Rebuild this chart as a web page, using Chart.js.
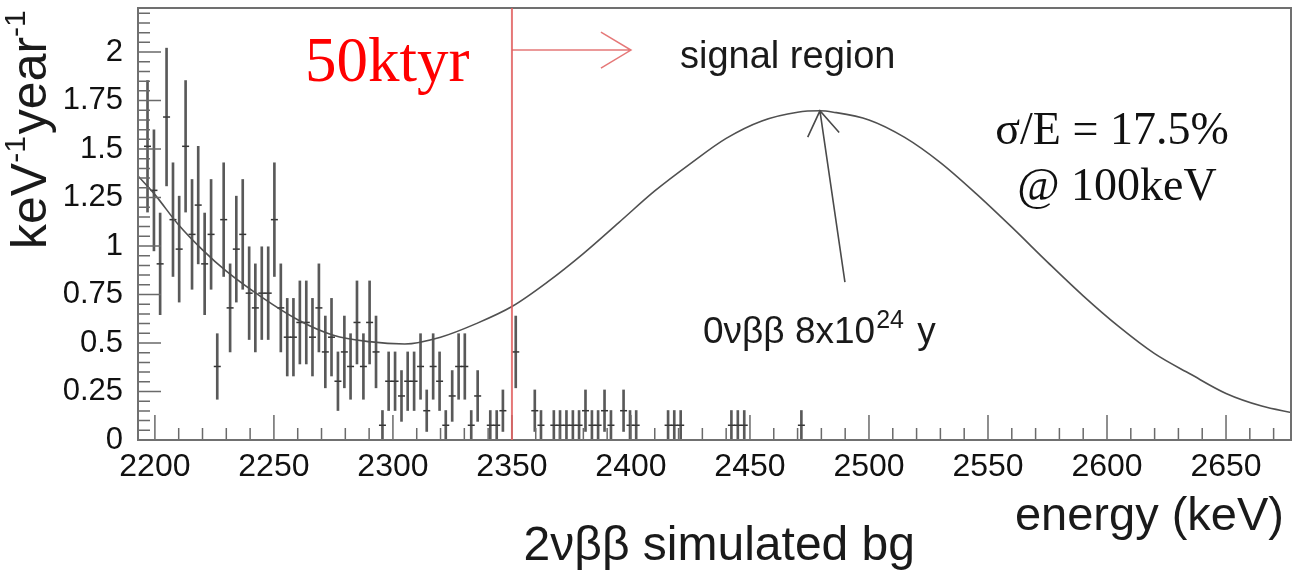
<!DOCTYPE html>
<html>
<head>
<meta charset="utf-8">
<script src="https://cdn.jsdelivr.net/npm/chart.js@4/dist/chart.umd.min.js"></script>
<style>
  html, body { margin: 0; padding: 0; background: #fff; }
</style>
</head>
<body>
<canvas id="spectrum" width="1299" height="574"></canvas>
<script>
// simulated 2vbb background, per bin (keV, keV^-1 year^-1)
const binEnergy = [2196.9, 2199.6, 2202.2, 2204.9, 2207.6, 2210.2, 2212.9, 2215.6, 2218.2, 2220.9,
  2223.6, 2226.2, 2228.9, 2231.6, 2234.2, 2236.9, 2239.6, 2242.2, 2244.9, 2247.6,
  2250.2, 2252.9, 2255.6, 2258.2, 2260.9, 2263.6, 2266.2, 2268.9, 2271.6, 2274.2,
  2276.9, 2279.6, 2282.2, 2284.9, 2287.6, 2290.2, 2292.9, 2295.6, 2298.2, 2300.9,
  2303.6, 2306.2, 2308.9, 2311.6, 2314.2, 2316.9, 2319.6, 2322.2, 2324.9, 2327.6,
  2330.2, 2332.9, 2335.6, 2340.9, 2343.6, 2346.2, 2351.6, 2359.6, 2362.2, 2367.6,
  2370.2, 2372.9, 2375.6, 2378.2, 2380.9, 2383.6, 2386.2, 2388.9, 2391.6, 2396.9,
  2399.6, 2402.2, 2415.6, 2418.2, 2420.9, 2442.2, 2444.9, 2447.6, 2471.6];
const binRate = [1.514, 1.287, 0.908, 1.665, 1.136, 0.984, 1.514, 1.060, 1.211, 0.908,
  1.060, 0.379, 1.136, 0.681, 0.984, 1.060, 0.757, 0.681, 0.757, 0.757,
  1.136, 0.681, 0.530, 0.530, 0.606, 0.606, 0.530, 0.681, 0.454, 0.530,
  0.303, 0.454, 0.379, 0.606, 0.379, 0.606, 0.454, 0.076, 0.303, 0.303,
  0.227, 0.303, 0.303, 0.379, 0.151, 0.379, 0.303, 0.076, 0.227, 0.379,
  0.379, 0.076, 0.227, 0.076, 0.076, 0.151, 0.454, 0.151, 0.076, 0.076,
  0.076, 0.076, 0.076, 0.076, 0.151, 0.076, 0.076, 0.151, 0.076, 0.151,
  0.076, 0.076, 0.076, 0.076, 0.076, 0.076, 0.076, 0.076, 0.076];
const binErr = [0.339, 0.312, 0.262, 0.355, 0.293, 0.273, 0.339, 0.283, 0.303, 0.262,
  0.283, 0.169, 0.293, 0.227, 0.273, 0.283, 0.239, 0.227, 0.239, 0.239,
  0.293, 0.227, 0.200, 0.200, 0.214, 0.214, 0.200, 0.227, 0.185, 0.200,
  0.151, 0.185, 0.169, 0.214, 0.169, 0.214, 0.185, 0.076, 0.151, 0.151,
  0.131, 0.151, 0.151, 0.169, 0.107, 0.169, 0.151, 0.076, 0.131, 0.169,
  0.169, 0.076, 0.131, 0.076, 0.076, 0.107, 0.185, 0.107, 0.076, 0.076,
  0.076, 0.076, 0.076, 0.076, 0.107, 0.076, 0.076, 0.107, 0.076, 0.107,
  0.076, 0.076, 0.076, 0.076, 0.076, 0.076, 0.076, 0.076, 0.076];

// fit: falling background plus the 0vbb peak
const fitEnergy = [2193, 2200, 2210, 2220, 2230, 2245, 2260, 2275, 2290, 2305,
  2320, 2335, 2350, 2365, 2380, 2395, 2410, 2425, 2440, 2455,
  2470, 2479.4, 2485, 2500, 2515, 2530, 2545, 2560, 2575, 2590,
  2605, 2620, 2635, 2650, 2665, 2678];
const fitRate = [1.36, 1.265, 1.108, 0.98, 0.87, 0.735, 0.62, 0.54, 0.507, 0.495,
  0.53, 0.60, 0.688, 0.815, 0.961, 1.122, 1.284, 1.425, 1.555, 1.645,
  1.69, 1.697, 1.69, 1.65, 1.56, 1.43, 1.27, 1.097, 0.917, 0.743,
  0.584, 0.445, 0.34, 0.24, 0.175, 0.14];

const energyTicks = [2200, 2250, 2300, 2350, 2400, 2450, 2500, 2550, 2600, 2650];
const rateTicks = [0, 0.25, 0.5, 0.75, 1, 1.25, 1.5, 1.75, 2];

const signalStart = 2350;
const signalArrowEnd = 2400;
const signalArrowY = 2.01;
const peakArrowTail = { x: 2489.9, y: 0.814 };

const SANS = '"Liberation Sans", Arial, Helvetica, sans-serif';
const SERIF = '"Liberation Serif", "Times New Roman", serif';

function arrowHead(ctx, tx, ty, fx, fy, len, ang) {
  const a = Math.atan2(fy - ty, fx - tx);
  ctx.moveTo(tx + len * Math.cos(a + ang), ty + len * Math.sin(a + ang));
  ctx.lineTo(tx, ty);
  ctx.lineTo(tx + len * Math.cos(a - ang), ty + len * Math.sin(a - ang));
}

const decorations = {
  id: 'decorations',
  afterDraw(chart) {
    const { ctx, chartArea: a, scales: { x, y } } = chart;
    ctx.save();

    // inward ticks along the bottom and left edges
    ctx.strokeStyle = '#6a6a6a';
    ctx.lineWidth = 1.5;
    ctx.beginPath();
    for (let t = 2200; t <= x.max; t += 10) {
      const px = x.getPixelForValue(t);
      const len = t % 50 === 0 ? 25 : 12;
      ctx.moveTo(px, a.bottom);
      ctx.lineTo(px, a.bottom - len);
    }
    for (let k = 0; k * 0.05 <= y.max; k++) {
      const py = y.getPixelForValue(k * 0.05);
      const len = k % 5 === 0 ? 23 : 12;
      ctx.moveTo(a.left, py);
      ctx.lineTo(a.left + len, py);
    }
    ctx.stroke();

    // frame
    ctx.strokeStyle = '#707070';
    ctx.lineWidth = 2;
    ctx.strokeRect(a.left, a.top, a.right - a.left, a.bottom - a.top);

    // signal region marker
    const sx = x.getPixelForValue(signalStart);
    const sy = y.getPixelForValue(signalArrowY);
    const ex = x.getPixelForValue(signalArrowEnd);
    ctx.strokeStyle = 'rgba(225, 95, 95, 0.85)';
    ctx.lineWidth = 2;
    ctx.beginPath();
    ctx.moveTo(sx, a.top);
    ctx.lineTo(sx, a.bottom);
    ctx.stroke();
    ctx.lineWidth = 1.5;
    ctx.beginPath();
    ctx.moveTo(sx, sy);
    ctx.lineTo(ex, sy);
    arrowHead(ctx, ex, sy, sx, sy, 35, 0.54);
    ctx.stroke();

    // arrow to the peak
    const px0 = x.getPixelForValue(peakArrowTail.x);
    const py0 = y.getPixelForValue(peakArrowTail.y);
    const px1 = x.getPixelForValue(fitEnergy[21]);
    const py1 = y.getPixelForValue(fitRate[21]);
    ctx.strokeStyle = '#4a4a4a';
    ctx.lineWidth = 1.6;
    ctx.beginPath();
    ctx.moveTo(px0, py0);
    ctx.lineTo(px1, py1);
    arrowHead(ctx, px1, py1, px0, py0, 29, 0.58);
    ctx.stroke();

    // texts
    ctx.fillStyle = '#1a1a1a';
    ctx.textBaseline = 'alphabetic';
    ctx.textAlign = 'left';
    ctx.font = '38px ' + SANS;
    ctx.fillText('signal region', 680, 68);

    // 0vbb label with superscript
    let tx = 703;
    const tb = 343;
    ctx.font = '37px ' + SANS;
    ctx.fillText('0\u03BD\u03B2\u03B2 8x10', tx, tb);
    tx += ctx.measureText('0\u03BD\u03B2\u03B2 8x10').width + 1;
    ctx.font = '25px ' + SANS;
    ctx.fillText('24', tx, tb - 15);
    tx += ctx.measureText('24').width;
    ctx.font = '37px ' + SANS;
    ctx.fillText(' y', tx + 3, tb);

    ctx.textAlign = 'center';
    ctx.font = '46px ' + SERIF;
    ctx.fillStyle = '#111';
    ctx.fillText('\u03C3/E = 17.5%', 1112, 144);
    ctx.fillText('@ 100keV', 1117, 200);

    ctx.textAlign = 'left';
    ctx.fillStyle = '#ff0000';
    ctx.font = '63px ' + SERIF;
    ctx.fillText('50ktyr', 305, 81);

    // axis titles
    ctx.fillStyle = '#1a1a1a';
    ctx.textAlign = 'right';
    ctx.font = '47px ' + SANS;
    ctx.fillText('energy (keV)', 1284, 530);
    ctx.font = '48px ' + SANS;
    ctx.fillText('2\u03BD\u03B2\u03B2 simulated bg', 915, 560);

    // rotated y title with superscripts
    ctx.translate(46, 249);
    ctx.rotate(-Math.PI / 2);
    ctx.textAlign = 'left';
    let ox = 0;
    const parts = [['keV', 50, 0], ['-1', 30, -21], ['year', 50, 0], ['-1', 30, -21]];
    for (const [s, size, dy] of parts) {
      ctx.font = size + 'px ' + SANS;
      ctx.fillText(s, ox, dy);
      ox += ctx.measureText(s).width + (size < 40 ? 2 : 0);
    }
    ctx.restore();
  }
};

const errorBars = binEnergy.map((e, i) => ({ x: e, y: [binRate[i] - binErr[i], binRate[i] + binErr[i]] }));
const centres = binEnergy.map((e, i) => ({ x: e, y: binRate[i] }));
const fitLine = fitEnergy.map((e, i) => ({ x: e, y: fitRate[i] }));

new Chart(document.getElementById('spectrum'), {
  type: 'scatter',
  data: {
    datasets: [
      {
        type: 'line',
        data: fitLine,
        borderColor: '#505050',
        borderWidth: 1.6,
        pointRadius: 0,
        cubicInterpolationMode: 'monotone',
        fill: false
      },
      {
        type: 'bar',
        data: errorBars,
        backgroundColor: 'rgba(60, 60, 60, 0.85)',
        borderWidth: 0,
        barThickness: 2,
        grouped: false
      },
      {
        type: 'scatter',
        data: centres,
        pointStyle: 'line',
        pointRadius: 3.5,
        borderColor: '#333',
        borderWidth: 1.5
      }
    ]
  },
  options: {
    responsive: false,
    animation: false,
    devicePixelRatio: 1,
    layout: { padding: { top: 8, right: 8, left: 0, bottom: 0 } },
    plugins: { legend: { display: false }, tooltip: { enabled: false } },
    scales: {
      x: {
        type: 'linear',
        min: 2192.9,
        max: 2677.3,
        offset: false,
        afterBuildTicks: s => { s.ticks = energyTicks.map(v => ({ value: v })); },
        afterFit: s => { s.height = 134; s.paddingLeft = 0; s.paddingRight = 0; },
        grid: { display: false, drawTicks: false },
        border: { display: false },
        ticks: { color: '#111', padding: 8, maxRotation: 0, autoSkip: false,
          font: { family: SANS, size: 32 }, callback: v => String(v) }
      },
      y: {
        type: 'linear',
        min: 0,
        max: 2.227,
        afterBuildTicks: s => { s.ticks = rateTicks.map(v => ({ value: v })); },
        afterFit: s => { s.width = 138; s.paddingTop = 0; s.paddingBottom = 0; },
        grid: { display: false, drawTicks: false },
        border: { display: false },
        ticks: { color: '#111', padding: 15, autoSkip: false,
          font: { family: SANS, size: 31 }, callback: v => String(v) }
      }
    }
  },
  plugins: [decorations]
});
</script>
</body>
</html>
